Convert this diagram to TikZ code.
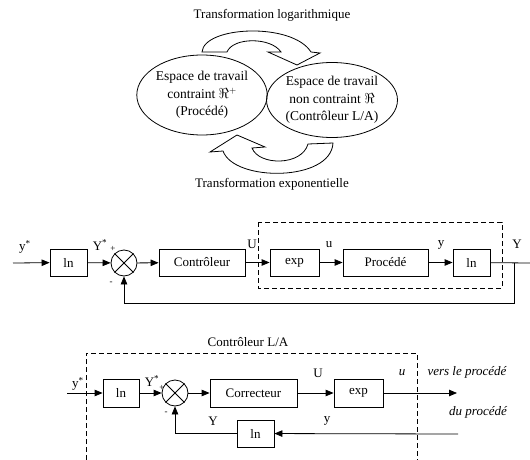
\documentclass[tikz,border=0pt]{standalone}
\usepackage{fontspec}
\setmainfont{Liberation Serif}
\usetikzlibrary{arrows.meta,shapes.geometric}
\begin{document}
\begin{tikzpicture}[x=1pt,y=-1pt,
  every node/.style={font=\fontsize{13}{16}\selectfont, inner sep=0pt},
  blk/.style={draw, line width=0.8pt, minimum height=27pt},
  sumnode/.style={draw, circle, line width=0.8pt, minimum size=26pt},
  ln/.style={line width=0.8pt},
  arr/.style={line width=0.8pt, -{Triangle[length=8pt,width=6.5pt]}},
  dsh/.style={line width=0.8pt, dash pattern=on 5pt off 3pt},
  ell/.style={draw, ellipse, line width=0.8pt, align=center, font=\fontsize{13.5}{17.5}\selectfont},
  barrow/.style={draw, fill=white, line width=0.8pt, line join=miter}
]
\useasboundingbox (0,0) rectangle (530,460);

% ---------- top part ----------
\node (tlog) at (272,15) {Transformation logarithmique};
\node (texp) at (272,184) {Transformation exponentielle};
\node[ell, minimum width=128pt, minimum height=80pt] (e1) at (202,95)
  {Espace de travail\\contraint $\Re^{+}$\\(Procédé)};
\node[ell, minimum width=112pt, minimum height=75pt] (e2) at (332,100)
  {Espace de travail\\non contraint $\Re$\\(Contrôleur L/A)};
% curved block arrows
\path[barrow] (202,52) .. controls (204,26) and (292,22) .. (311,52)
  -- (320,53) -- (297,65) -- (268,52) -- (281,52)
  .. controls (271,37) and (233,37) .. (227,52) -- cycle;
\path[barrow] (333,143) .. controls (331,182) and (234,182) .. (223,151)
  -- (210,152) -- (237,135) -- (265,147) -- (252,148)
  .. controls (259,166) and (302,166) .. (308,144) -- cycle;

% ---------- middle diagram ----------
\coordinate (in1) at (13,263);
\node[blk, minimum width=37pt] (lna) at (68.5,262.5) {ln};
\node[sumnode] (s1) at (124,263) {};
\draw[ln] (s1.north west) -- (s1.south east) (s1.north east) -- (s1.south west);
\node[blk, minimum width=86pt] (ctrl) at (202,262.5) {Contrôleur};
\node[blk, minimum width=49pt] (expa) at (294.5,262.5) {exp};
\node[blk, minimum width=85pt] (proc) at (385.5,262.5) {Procédé};
\node[blk, minimum width=37pt] (lnb) at (471.5,262.5) {ln};
\coordinate (out1) at (530,263);
\coordinate (br1) at (514,263);
\draw[dsh] (258,222) rectangle (502,288);
\draw[arr] (in1) -- (lna);
\draw[arr] (lna) -- (s1);
\draw[arr] (s1) -- (ctrl);
\draw[arr] (ctrl) -- (expa);
\draw[arr] (expa) -- (proc);
\draw[arr] (proc) -- (lnb);
\draw[ln] (lnb) -- (out1);
\draw[arr] (br1) |- (124,303) -- (s1.south);
\node at (25,247) {y\textsuperscript{*}};
\node at (100,245) {Y\textsuperscript{*}};
\node[font=\fontsize{9}{10}\selectfont] at (113,249) {+};
\node[font=\fontsize{9}{10}\selectfont] at (111,283) {-};
\node at (252,244) {U};
\node at (329,245) {u};
\node at (441,245) {y};
\node at (517,244) {Y};

% ---------- bottom diagram ----------
\node (title) at (248,342) {Contrôleur L/A};
\draw[dsh] (86,460) -- (86,353) -- (417,353) -- (417,460);
\coordinate (in2) at (67,393);
\node[blk, minimum width=36pt, minimum height=28pt] (lnc) at (121,393) {ln};
\node[sumnode] (s2) at (175,393) {};
\draw[ln] (s2.north west) -- (s2.south east) (s2.north east) -- (s2.south west);
\node[blk, minimum width=87pt, minimum height=28pt] (corr) at (253.5,393) {Correcteur};
\node[blk, minimum width=49pt, minimum height=28pt] (expb) at (358.5,393) {exp};
\coordinate (out2) at (457,393);
\coordinate (fb2) at (458,434);
\node[blk, minimum width=37pt] (lnd) at (255.5,433.5) {ln};
\draw[arr] (in2) -- (lnc);
\draw[arr] (lnc) -- (s2);
\draw[arr] (s2) -- (corr);
\draw[arr] (corr) -- (expb);
\draw[arr] (expb) -- (out2);
\draw[arr] (fb2) -- (lnd);
\draw[arr] (lnd.west) -| (s2.south);
\node at (78,384) {y\textsuperscript{*}};
\node at (152,381) {Y\textsuperscript{*}};
\node[font=\fontsize{9}{10}\selectfont] at (162,388) {+};
\node[font=\fontsize{9}{10}\selectfont] at (166,413) {-};
\node at (318,373) {U};
\node at (402,373) {\itshape u};
\node at (467,372) {\itshape vers le procédé};
\node at (478,412) {\itshape du procédé};
\node at (327,421) {y};
\node at (213,421) {Y};
\end{tikzpicture}
\end{document}
